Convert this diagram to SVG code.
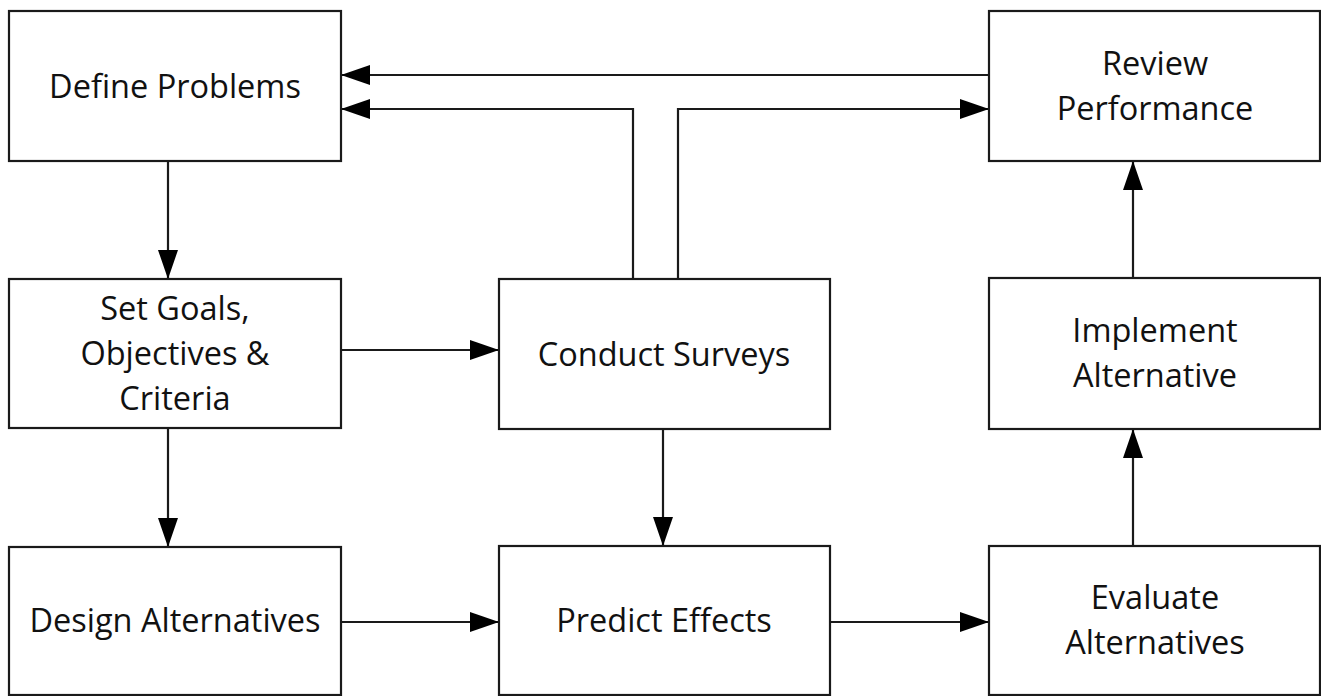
<svg xmlns="http://www.w3.org/2000/svg" width="1321" height="696" viewBox="0 0 1321 696">
<defs>
<style>
.box{fill:#fff;stroke:#1a1a1a;stroke-width:2.2}
.lbl{font-family:"Open Sans","Liberation Sans",sans-serif;font-size:32.5px;fill:#111;text-anchor:middle}
.c{fill:none;stroke:#1a1a1a;stroke-width:2.2}
</style>
<marker id="ah" markerUnits="userSpaceOnUse" markerWidth="30" markerHeight="22" refX="29" refY="10" orient="auto">
<path d="M0,0 L29,10 L0,20 z" fill="#000"/>
</marker>
</defs>
<rect width="1321" height="696" fill="#fff"/>
<g id="connectors">
<path class="c" d="M989,75 L341,75" marker-end="url(#ah)"/>
<path class="c" d="M633,279 L633,109 L341,109" marker-end="url(#ah)"/>
<path class="c" d="M678,279 L678,109 L989,109" marker-end="url(#ah)"/>
<path class="c" d="M168,161 L168,279" marker-end="url(#ah)"/>
<path class="c" d="M341,350 L499,350" marker-end="url(#ah)"/>
<path class="c" d="M168,428 L168,547" marker-end="url(#ah)"/>
<path class="c" d="M663,429 L663,546" marker-end="url(#ah)"/>
<path class="c" d="M341,622 L499,622" marker-end="url(#ah)"/>
<path class="c" d="M830,622 L989,622" marker-end="url(#ah)"/>
<path class="c" d="M1133,546 L1133,429" marker-end="url(#ah)"/>
<path class="c" d="M1133,278 L1133,161" marker-end="url(#ah)"/>
</g>
<g id="define-problems">
<rect class="box" x="9" y="11" width="332" height="150"/>
<text class="lbl" x="175" y="98">Define Problems</text>
</g>
<g id="set-goals">
<rect class="box" x="9" y="279" width="332" height="149"/>
<text class="lbl" x="175" y="320">Set Goals,</text>
<text class="lbl" x="175" y="365">Objectives &amp;</text>
<text class="lbl" x="175" y="410">Criteria</text>
</g>
<g id="design-alternatives">
<rect class="box" x="9" y="547" width="332" height="148"/>
<text class="lbl" x="175" y="632">Design Alternatives</text>
</g>
<g id="conduct-surveys">
<rect class="box" x="499" y="279" width="331" height="150"/>
<text class="lbl" x="664" y="366">Conduct Surveys</text>
</g>
<g id="predict-effects">
<rect class="box" x="499" y="546" width="331" height="149"/>
<text class="lbl" x="664" y="632">Predict Effects</text>
</g>
<g id="review-performance">
<rect class="box" x="989" y="11" width="331" height="150"/>
<text class="lbl" x="1155" y="75">Review</text>
<text class="lbl" x="1155" y="120">Performance</text>
</g>
<g id="implement-alternative">
<rect class="box" x="989" y="278" width="331" height="151"/>
<text class="lbl" x="1155" y="342">Implement</text>
<text class="lbl" x="1155" y="387">Alternative</text>
</g>
<g id="evaluate-alternatives">
<rect class="box" x="989" y="546" width="331" height="149"/>
<text class="lbl" x="1155" y="609">Evaluate</text>
<text class="lbl" x="1155" y="654">Alternatives</text>
</g>
</svg>
